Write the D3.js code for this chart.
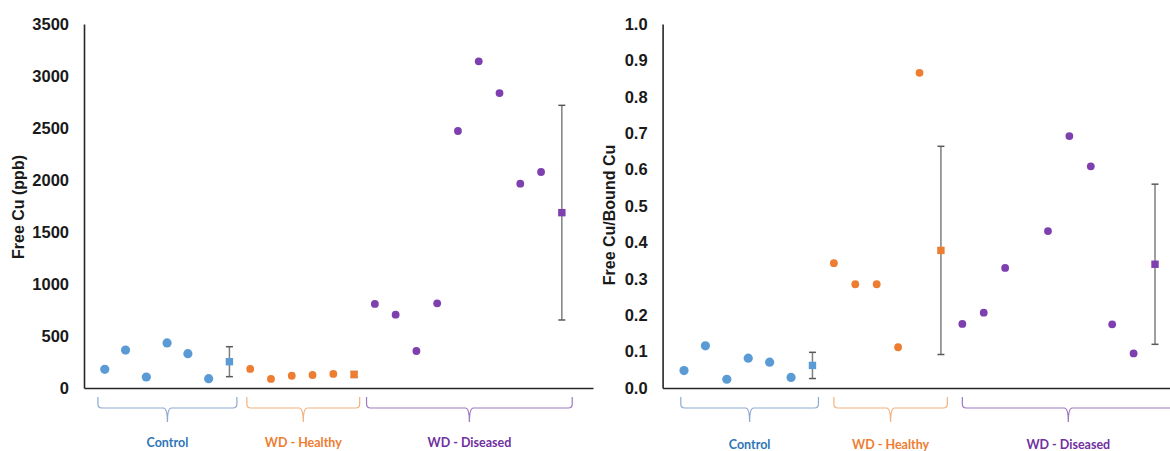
<!DOCTYPE html>
<html>
<head>
<meta charset="utf-8">
<script src="https://cdn.jsdelivr.net/npm/d3@7"></script>
<style>
  html, body { margin: 0; padding: 0; background: #fff; }
  svg { display: block; }
</style>
</head>
<body>
<svg id="chart" width="1170" height="451"></svg>
<script>
// ---- Data ----
const groups = ["Control", "WD - Healthy", "WD - Diseased"];
const groupColors = ["#5B9BD5", "#ED7D31", "#7E3FAF"];
const braceColors = ["#8EA9D0", "#F2B27F", "#9D78C2"];
const labelColors = ["#2E75B6", "#ED7D31", "#7030A0"];

// Left panel: Free Cu (ppb)
const controlFree = [180, 365, 106, 433, 330, 90];
const healthyFree = [183, 87, 118, 125, 135];
const diseasedFree = [808, 705, 356, 814, 2471, 3141, 2836, 1965, 2077];
const meanFree = [253, 130, 1686];
const errFree = [144, 28, 1032];
const ticksFree = [0, 500, 1000, 1500, 2000, 2500, 3000, 3500];

// Right panel: Free Cu / Bound Cu
const controlRatio = [0.048, 0.116, 0.024, 0.082, 0.071, 0.029];
const healthyRatio = [0.343, 0.285, 0.285, 0.112, 0.866];
const diseasedRatio = [0.176, 0.207, 0.330, null, 0.431, 0.692, 0.609, 0.175, 0.095];
const meanRatio = [0.062, 0.378, 0.340];
const errRatio = [0.036, 0.286, 0.220];
const ticksRatio = [0, 0.1, 0.2, 0.3, 0.4, 0.5, 0.6, 0.7, 0.8, 0.9, 1.0];

// ---- Layout ----
const svg = d3.select("#chart");

function buildSeries(points, means, errs) {
  // x index positions: group points then mean
  const out = [];
  let idx = 1;
  points.forEach((arr, g) => {
    arr.forEach(v => { if (v !== null) out.push({g, i: idx, v, kind: "pt"}); idx++; });
    out.push({g, i: idx, v: means[g], e: errs[g], kind: "mean"});
    idx++;
  });
  return out;
}

function drawPanel(cfg) {
  const x = d3.scaleLinear().domain(cfg.xDomain).range(cfg.xRange);
  const y = d3.scaleLinear().domain(cfg.yDomain).range([388, 24]);
  const g = svg.append("g");

  // y axis
  const yAxis = d3.axisLeft(y).tickValues(cfg.ticks).tickSize(0).tickPadding(15)
    .tickFormat(cfg.fmt);
  const ya = g.append("g").attr("transform", `translate(${cfg.xRange[0]},0)`).call(yAxis);
  ya.select(".domain").attr("stroke", "#262626").attr("stroke-width", 1.6);
  ya.selectAll("text").attr("font-family", "Liberation Sans, Arial, sans-serif")
    .attr("font-weight", "bold").attr("font-size", 16.5).attr("fill", "#1a1a1a");

  // x axis line
  const xAxis = d3.axisBottom(x).tickValues([]).tickSize(0);
  const xa = g.append("g").attr("transform", `translate(0,${y(0)})`).call(xAxis);
  xa.select(".domain").attr("stroke", "#262626").attr("stroke-width", 1.6);

  // y title
  g.append("text")
    .attr("transform", `translate(${cfg.titleX},${cfg.titleY}) rotate(-90)`)
    .attr("text-anchor", "middle").attr("dominant-baseline", "central")
    .attr("font-family", "Liberation Sans, Arial, sans-serif")
    .attr("font-weight", "bold").attr("font-size", 16).attr("fill", "#1a1a1a")
    .text(cfg.title);

  const data = buildSeries(cfg.points, cfg.means, cfg.errs);

  // error bars
  const means = data.filter(d => d.kind === "mean");
  const eb = g.selectAll(".eb").data(means).enter().append("g");
  eb.append("line")
    .attr("x1", d => x(d.i)).attr("x2", d => x(d.i))
    .attr("y1", d => y(d.v + d.e)).attr("y2", d => y(d.v - d.e))
    .attr("stroke", "#7f7f7f").attr("stroke-width", 1.5);
  [1, -1].forEach(s => {
    eb.append("line")
      .attr("x1", d => x(d.i) - 3.5).attr("x2", d => x(d.i) + 3.5)
      .attr("y1", d => y(d.v + s * d.e)).attr("y2", d => y(d.v + s * d.e))
      .attr("stroke", "#595959").attr("stroke-width", 1.5);
  });
  g.selectAll(".sq").data(means).enter().append("rect")
    .attr("x", d => x(d.i) - 3.7).attr("y", d => y(d.v) - 3.7)
    .attr("width", 7.4).attr("height", 7.4)
    .attr("fill", d => groupColors[d.g]);

  // points
  g.selectAll(".pt").data(data.filter(d => d.kind === "pt")).enter().append("circle")
    .attr("cx", d => x(d.i)).attr("cy", d => y(d.v))
    .attr("r", d => d.g === 0 ? 4.6 : 3.9)
    .attr("fill", d => groupColors[d.g]);

  // braces
  cfg.braces.forEach((b, k) => {
    const x0 = x(b[0]), x1 = x(b[1]), xm = (x0 + x1) / 2;
    const top = 397, mid = 408, tip = 422, r = 4;
    const p = d3.path();
    p.moveTo(x0, top);
    p.lineTo(x0, mid - r);
    p.quadraticCurveTo(x0, mid, x0 + r, mid);
    p.lineTo(xm - 4, mid);
    p.quadraticCurveTo(xm, mid, xm, tip);
    p.quadraticCurveTo(xm, mid, xm + 4, mid);
    p.lineTo(x1 - r, mid);
    p.quadraticCurveTo(x1, mid, x1, mid - r);
    p.lineTo(x1, top);
    g.append("path").attr("d", p.toString()).attr("fill", "none")
      .attr("stroke", braceColors[k]).attr("stroke-width", 1.2);
    g.append("text").attr("x", xm).attr("y", cfg.labelY)
      .attr("text-anchor", "middle")
      .attr("font-family", "Lato, Open Sans, sans-serif").attr("font-weight", "bold")
      .attr("font-size", 12.5).attr("fill", labelColors[k])
      .text(groups[k]);
  });
}

drawPanel({
  xDomain: [0, 24.5], xRange: [84, 593],
  yDomain: [0, 3500], ticks: ticksFree, fmt: d3.format("d"),
  title: "Free Cu (ppb)", titleX: 18, titleY: 207,
  points: [controlFree, healthyFree, diseasedFree], means: meanFree, errs: errFree,
  braces: [[0.67, 7.36], [7.84, 13.27], [13.6, 23.5]], labelY: 447
});

drawPanel({
  xDomain: [0, 23.7], xRange: [662.6, 1170],
  yDomain: [0, 1], ticks: ticksRatio, fmt: d3.format(".1f"),
  title: "Free Cu/Bound Cu", titleX: 609, titleY: 215,
  points: [controlRatio, healthyRatio, diseasedRatio], means: meanRatio, errs: errRatio,
  braces: [[0.85, 7.28], [8.0, 13.3], [14.0, 23.9]], labelY: 449
});
</script>
</body>
</html>
